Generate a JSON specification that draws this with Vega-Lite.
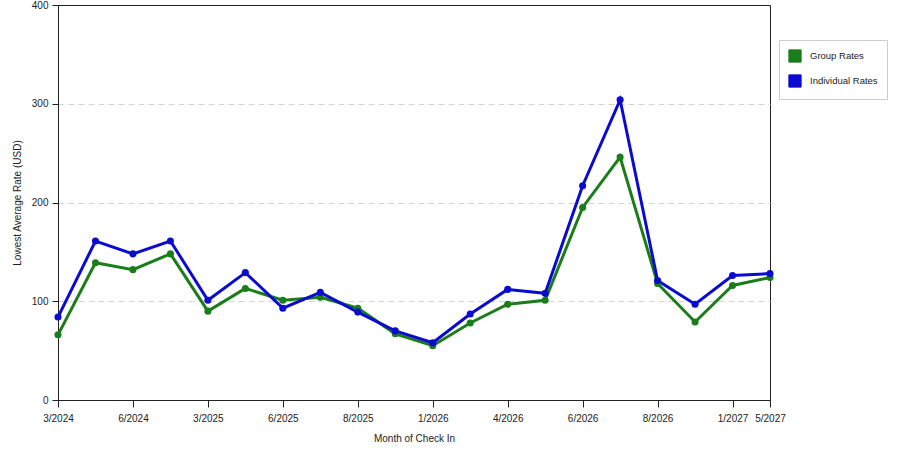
{
  "$schema": "https://vega.github.io/schema/vega-lite/v6.json",
  "width": 712,
  "height": 395,
  "autosize": "none",
  "padding": {"left": 58, "top": 5, "right": 130, "bottom": 50},
  "background": "white",
  "config": {
    "view": {"stroke": "#222", "strokeWidth": 1},
    "font": "Liberation Sans",
    "axis": {
      "labelFont": "Liberation Sans",
      "titleFont": "Liberation Sans",
      "labelFontSize": 10,
      "titleFontSize": 10,
      "labelColor": "#222",
      "titleColor": "#222",
      "titleFontWeight": "normal",
      "domainColor": "#222",
      "tickColor": "#222"
    }
  },
  "data": {
    "values": [
      {"month": "3/2024", "series": "Group Rates", "rate": 66},
      {"month": "4/2024", "series": "Group Rates", "rate": 139},
      {"month": "6/2024", "series": "Group Rates", "rate": 132},
      {"month": "7/2024", "series": "Group Rates", "rate": 148},
      {"month": "3/2025", "series": "Group Rates", "rate": 90},
      {"month": "5/2025", "series": "Group Rates", "rate": 113},
      {"month": "6/2025", "series": "Group Rates", "rate": 101},
      {"month": "7/2025", "series": "Group Rates", "rate": 104},
      {"month": "8/2025", "series": "Group Rates", "rate": 93},
      {"month": "12/2025", "series": "Group Rates", "rate": 67},
      {"month": "1/2026", "series": "Group Rates", "rate": 55},
      {"month": "3/2026", "series": "Group Rates", "rate": 78},
      {"month": "4/2026", "series": "Group Rates", "rate": 97},
      {"month": "5/2026", "series": "Group Rates", "rate": 101},
      {"month": "6/2026", "series": "Group Rates", "rate": 195},
      {"month": "7/2026", "series": "Group Rates", "rate": 246},
      {"month": "8/2026", "series": "Group Rates", "rate": 118},
      {"month": "12/2026", "series": "Group Rates", "rate": 79},
      {"month": "1/2027", "series": "Group Rates", "rate": 116},
      {"month": "5/2027", "series": "Group Rates", "rate": 124},
      {"month": "3/2024", "series": "Individual Rates", "rate": 84},
      {"month": "4/2024", "series": "Individual Rates", "rate": 161},
      {"month": "6/2024", "series": "Individual Rates", "rate": 148},
      {"month": "7/2024", "series": "Individual Rates", "rate": 161},
      {"month": "3/2025", "series": "Individual Rates", "rate": 101},
      {"month": "5/2025", "series": "Individual Rates", "rate": 129},
      {"month": "6/2025", "series": "Individual Rates", "rate": 93},
      {"month": "7/2025", "series": "Individual Rates", "rate": 109},
      {"month": "8/2025", "series": "Individual Rates", "rate": 89},
      {"month": "12/2025", "series": "Individual Rates", "rate": 70},
      {"month": "1/2026", "series": "Individual Rates", "rate": 58},
      {"month": "3/2026", "series": "Individual Rates", "rate": 87},
      {"month": "4/2026", "series": "Individual Rates", "rate": 112},
      {"month": "5/2026", "series": "Individual Rates", "rate": 108},
      {"month": "6/2026", "series": "Individual Rates", "rate": 217},
      {"month": "7/2026", "series": "Individual Rates", "rate": 304},
      {"month": "8/2026", "series": "Individual Rates", "rate": 121},
      {"month": "12/2026", "series": "Individual Rates", "rate": 97},
      {"month": "1/2027", "series": "Individual Rates", "rate": 126},
      {"month": "5/2027", "series": "Individual Rates", "rate": 128}
    ]
  },
  "encoding": {
    "x": {
      "field": "month",
      "type": "ordinal",
      "sort": null,
      "scale": {"type": "point", "padding": 0},
      "axis": {
        "title": "Month of Check In",
        "values": ["3/2024", "6/2024", "3/2025", "6/2025", "8/2025", "1/2026", "4/2026", "6/2026", "8/2026", "1/2027", "5/2027"],
        "labelAngle": 0,
        "tickSize": 7,
        "labelPadding": 6,
        "titlePadding": 10,
        "grid": false
      }
    },
    "y": {
      "field": "rate",
      "type": "quantitative",
      "scale": {"domain": [0, 400], "nice": false},
      "axis": {
        "title": "Lowest Average Rate (USD)",
        "values": [0, 100, 200, 300, 400],
        "tickSize": 6,
        "labelPadding": 4,
        "titlePadding": 9,
        "grid": true,
        "gridColor": "#d4d4d4",
        "gridDash": [6, 4],
        "gridWidth": 1,
        "gridOpacity": {"condition": {"test": "datum.value === 400 || datum.value === 0", "value": 0}, "value": 1}
      }
    },
    "color": {
      "field": "series",
      "type": "nominal",
      "scale": {"domain": ["Group Rates", "Individual Rates"], "range": ["#1a7d1a", "#0b0bd0"]},
      "legend": {
        "title": null,
        "orient": "none",
        "legendX": 721,
        "legendY": 35,
        "symbolType": "square",
        "symbolSize": 150,
        "symbolStrokeColor": "#222",
        "symbolStrokeWidth": 1,
        "symbolOpacity": 1,
        "labelFont": "Liberation Sans",
        "labelFontSize": 9.5,
        "labelColor": "#222",
        "rowPadding": 7,
        "padding": 9,
        "strokeColor": "#cccccc",
        "fillColor": "white",
        "labelOffset": 8
      }
    }
  },
  "layer": [
    {
      "mark": {"type": "line", "strokeWidth": 3}
    },
    {
      "mark": {"type": "point", "filled": true, "size": 50, "opacity": 1, "strokeWidth": 2, "strokeOpacity": 0.35}
    }
  ]
}
